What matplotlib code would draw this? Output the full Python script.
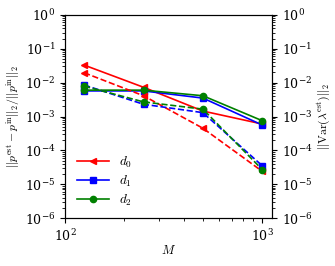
import numpy as np
import matplotlib
matplotlib.use('Agg')
import matplotlib.pyplot as plt
from matplotlib.ticker import LogLocator, NullFormatter

plt.rcParams['mathtext.fontset'] = 'cm'
plt.rcParams['font.family'] = 'serif'
plt.rcParams['font.serif'] = ['DejaVu Serif']
plt.rcParams['font.size'] = 9

# sample sizes
M = [125, 250, 500, 1000]

# relative error (left axis, solid)
err_d0 = [0.033, 0.0073, 0.00145, 0.0006]
err_d1 = [0.0057, 0.0057, 0.0035, 0.00056]
err_d2 = [0.006, 0.006, 0.0041, 0.00075]

# variance norm (right axis, dashed)
var_d0 = [0.0196, 0.0041, 0.00045, 0.000024]
var_d1 = [0.0085, 0.0023, 0.0013, 0.000035]
var_d2 = [0.0079, 0.0027, 0.00165, 0.000027]

labels = ['$d_0$', '$d_1$', '$d_2$']
colors = ['red', 'blue', 'green']
markers = ['<', 's', 'o']

fig = plt.figure(figsize=(3.35, 2.66), dpi=100)
ax = fig.add_axes([0.194, 0.180, 0.618, 0.764])
ax2 = ax.twinx()

for e, v, lab, c, m in zip([err_d0, err_d1, err_d2], [var_d0, var_d1, var_d2],
                           labels, colors, markers):
    ax.plot(M, e, color=c, marker=m, ms=4.5, lw=1.2, label=lab)
    ax2.plot(M, v, color=c, marker=m, ms=4.5, lw=1.2, ls='--')

for a in (ax, ax2):
    a.set_xscale('log')
    a.set_yscale('log')
    a.set_ylim(1e-6, 1)
    a.yaxis.set_major_locator(LogLocator(base=10, numticks=20))
    a.yaxis.set_minor_locator(LogLocator(base=10, subs=np.arange(2, 10), numticks=20))
    a.yaxis.set_minor_formatter(NullFormatter())
ax.set_xlim(100, 1120)
ax.xaxis.set_minor_locator(LogLocator(base=10, subs=np.arange(2, 10), numticks=20))
ax.xaxis.set_minor_formatter(NullFormatter())

ax.set_xlabel('$M$', labelpad=0)
ax.set_ylabel(r'$||p^{\rm est}-p^{\rm in}||_2/||p^{\rm in}||_2$', fontsize=8.5, labelpad=2)
ax2.set_ylabel(r'$||{\rm Var}(\lambda^{\rm est})||_2$', fontsize=8.5, labelpad=2)
ax.legend(loc='lower left', frameon=False, bbox_to_anchor=(0.0, -0.01),
          handlelength=2.4, labelspacing=0.3, fontsize=9.5)

plt.savefig('out.png', dpi=100)
